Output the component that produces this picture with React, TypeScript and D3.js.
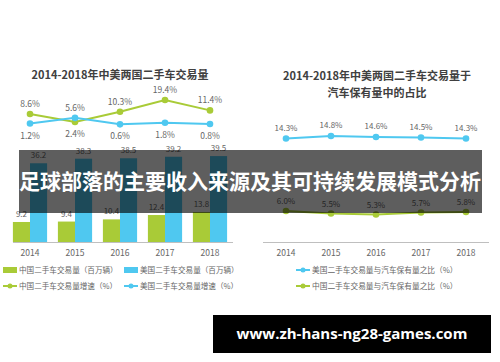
import React from "react";
import * as d3 from "d3";

const years = ["2014", "2015", "2016", "2017", "2018"];
// 交易量（百万辆）
const cnVolume = [9.2, 9.4, 10.4, 12.4, 13.8];
const usVolume = [36.2, 38.3, 38.5, 39.2, 39.5];
// 交易量增速（%）
const cnGrowth = [8.6, 2.4, 10.3, 19.4, 11.4];
const usGrowth = [1.2, 5.6, 0.6, 1.8, 0.8];
// 交易量与汽车保有量之比（%）
const usShare = [14.3, 14.8, 14.6, 14.5, 14.3];
const cnShare = [6.0, 5.5, 5.3, 5.7, 5.8];

const GREEN = "#a9cb37";
const BLUE = "#4fc8f0";
const TEXT = "#666";
const FONT = "'Noto Sans CJK SC', 'Noto Sans', sans-serif";

export default function App() {
  const width = 500;
  const height = 362;

  // left chart scales
  const xL = d3.scaleBand<string>().domain(years).range([7.5, 232.5]).paddingInner(0.24).paddingOuter(0.12);
  const sub = d3.scaleBand<string>().domain(["cn", "us"]).range([0, xL.bandwidth()]);
  const yBar = d3.scaleLinear().domain([0, 40]).range([242, 155]);
  const yGrowth = d3.scaleLinear().domain([0, 20]).range([125.1, 99.3]);
  const cxL = (y: string) => xL(y)! + xL.bandwidth() / 2;

  // right chart scales
  const xR = d3.scalePoint<string>().domain(years).range([286, 466]);
  const yUs = d3.scaleLinear().domain([14, 15]).range([140, 135]);
  const yCn = d3.scaleLinear().domain([5, 6]).range([216, 211]);

  const lineOf = (vals: number[], x: (y: string) => number, y: d3.ScaleLinear<number, number>) =>
    d3.line<number>().x((_, i) => x(years[i])).y((d) => y(d))(vals) || "";

  const fmt = (v: number) => v.toFixed(1) + "%";

  return (
    <svg width={width} height={height} style={{ position: "fixed", left: 0, top: 0, background: "#fff" }} fontFamily={FONT}>
      <rect width={width} height={height} fill="#fff" />

      {/* ---- left chart ---- */}
      <text x={120} y={79} textAnchor="middle" fontSize={11} fontWeight="bold" fill="#404040">
        2014-2018年中美两国二手车交易量
      </text>

      {years.map((yr, i) => (
        <g key={"bar" + yr}>
          <rect x={xL(yr)! + sub("cn")!} y={yBar(cnVolume[i])} width={sub.bandwidth()} height={yBar(0) - yBar(cnVolume[i])} fill={GREEN} />
          <rect x={xL(yr)! + sub("us")!} y={yBar(usVolume[i])} width={sub.bandwidth()} height={yBar(0) - yBar(usVolume[i])} fill={BLUE} />
          <text x={xL(yr)! + sub("cn")! + sub.bandwidth() / 2} y={yBar(cnVolume[i]) - 5} textAnchor="middle" fontSize={8} fill={TEXT}>
            {cnVolume[i].toFixed(1)}
          </text>
          <text x={xL(yr)! + sub("us")! + sub.bandwidth() / 2} y={yBar(usVolume[i]) - 5} textAnchor="middle" fontSize={8} fill={TEXT}>
            {usVolume[i].toFixed(1)}
          </text>
          <text x={cxL(yr)} y={256} textAnchor="middle" fontSize={8.5} fill={TEXT}>
            {yr}
          </text>
        </g>
      ))}
      <line x1={13} x2={233} y1={yBar(0) + 0.5} y2={yBar(0) + 0.5} stroke="#bfbfbf" />

      <path d={lineOf(cnGrowth, cxL, yGrowth)} fill="none" stroke={GREEN} strokeWidth={2} />
      <path d={lineOf(usGrowth, cxL, yGrowth)} fill="none" stroke={BLUE} strokeWidth={2} />
      {years.map((yr, i) => {
        const cnUp = cnGrowth[i] >= usGrowth[i];
        return (
          <g key={"gr" + yr}>
            <circle cx={cxL(yr)} cy={yGrowth(cnGrowth[i])} r={3.3} fill={GREEN} />
            <circle cx={cxL(yr)} cy={yGrowth(usGrowth[i])} r={3.3} fill={BLUE} />
            <text x={cxL(yr)} y={yGrowth(cnGrowth[i]) + (cnUp ? -7 : 15)} textAnchor="middle" fontSize={8.5} fill={TEXT}>
              {fmt(cnGrowth[i])}
            </text>
            <text x={cxL(yr)} y={yGrowth(usGrowth[i]) + (cnUp ? 15 : -7)} textAnchor="middle" fontSize={8.5} fill={TEXT}>
              {fmt(usGrowth[i])}
            </text>
          </g>
        );
      })}

      {/* left legend */}
      <g fontSize={7.6} fill={TEXT}>
        <rect x={3} y={267} width={14} height={6} fill={GREEN} />
        <text x={19} y={273}>中国二手车交易量（百万辆）</text>
        <rect x={124} y={267} width={14} height={6} fill={BLUE} />
        <text x={140} y={273}>美国二手车交易量（百万辆）</text>
        <line x1={3} x2={17} y1={286} y2={286} stroke={GREEN} strokeWidth={2} />
        <circle cx={10} cy={286} r={2.5} fill={GREEN} />
        <text x={19} y={289}>中国二手车交易量增速（%）</text>
        <line x1={124} x2={138} y1={286} y2={286} stroke={BLUE} strokeWidth={2} />
        <circle cx={131} cy={286} r={2.5} fill={BLUE} />
        <text x={140} y={289}>美国二手车交易量增速（%）</text>
      </g>

      {/* ---- right chart ---- */}
      <text x={377} y={80} textAnchor="middle" fontSize={11} fontWeight="bold" fill="#404040">
        2014-2018年中美两国二手车交易量于
      </text>
      <text x={377} y={97} textAnchor="middle" fontSize={11} fontWeight="bold" fill="#404040">
        汽车保有量中的占比
      </text>

      <path d={lineOf(usShare, (y) => xR(y)!, yUs)} fill="none" stroke={BLUE} strokeWidth={2} />
      <path d={lineOf(cnShare, (y) => xR(y)!, yCn)} fill="none" stroke={GREEN} strokeWidth={2} />
      {years.map((yr, i) => (
        <g key={"sh" + yr}>
          <circle cx={xR(yr)} cy={yUs(usShare[i])} r={3.3} fill={BLUE} />
          <circle cx={xR(yr)} cy={yCn(cnShare[i])} r={3.3} fill={GREEN} />
          <text x={xR(yr)} y={yUs(usShare[i]) - 8} textAnchor="middle" fontSize={8} fill={TEXT}>
            {fmt(usShare[i])}
          </text>
          <text x={xR(yr)} y={yCn(cnShare[i]) - 7} textAnchor="middle" fontSize={8} fill={TEXT}>
            {fmt(cnShare[i])}
          </text>
          <text x={xR(yr)} y={256} textAnchor="middle" fontSize={8.5} fill={TEXT}>
            {yr}
          </text>
        </g>
      ))}
      <line x1={263} x2={489} y1={242.5} y2={242.5} stroke="#bfbfbf" />

      {/* right legend */}
      <g fontSize={7.7} fill={TEXT}>
        <line x1={296} x2={310} y1={270} y2={270} stroke={BLUE} strokeWidth={2} />
        <circle cx={303} cy={270} r={2.5} fill={BLUE} />
        <text x={312} y={273}>美国二手车交易量与汽车保有量之比（%）</text>
        <line x1={296} x2={310} y1={286} y2={286} stroke={GREEN} strokeWidth={2} />
        <circle cx={303} cy={286} r={2.5} fill={GREEN} />
        <text x={312} y={289}>中国二手车交易量与汽车保有量之比（%）</text>
      </g>

      {/* ---- overlay banner ---- */}
      <rect x={19} y={150} width={463} height={63} fill="#000" fillOpacity={0.63} />
      <text x={250} y={189} textAnchor="middle" fontSize={21} fontWeight="bold" fill="#fff">
        足球部落的主要收入来源及其可持续发展模式分析
      </text>

      {/* ---- watermark ---- */}
      <rect x={213} y={315} width={278} height={38} fill="#000" />
      <text x={352} y={339} textAnchor="middle" fontSize={15} fontWeight="bold" fill="#fff" fontFamily="'Open Sans', sans-serif">
        www.zh-hans-ng28-games.com
      </text>
    </svg>
  );
}
